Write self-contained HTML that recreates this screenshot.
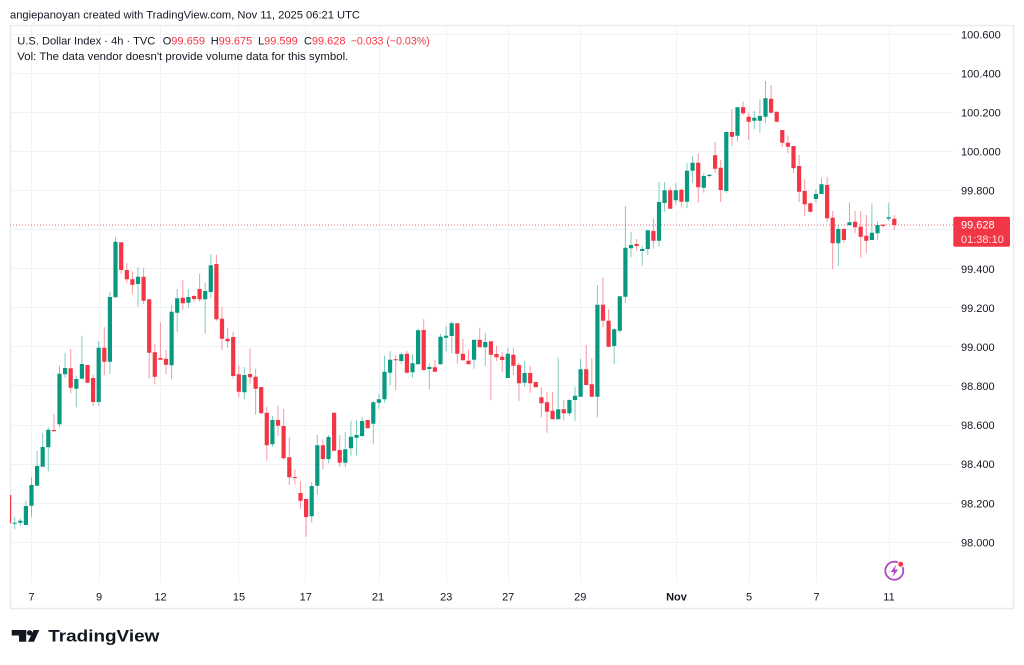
<!DOCTYPE html>
<html><head><meta charset="utf-8"><style>
html,body{margin:0;padding:0;background:#fff;}
svg{display:block;font-family:"Liberation Sans",Arial,sans-serif;}
</style></head><body>
<svg width="1024" height="665" viewBox="0 0 1024 665" xmlns="http://www.w3.org/2000/svg">
<defs><clipPath id="pc"><rect x="10" y="25" width="943" height="558"/></clipPath></defs>
<rect width="1024" height="665" fill="#fff"/>
<text x="10" y="18.5" font-size="11" fill="#131722" textLength="350" lengthAdjust="spacingAndGlyphs">angiepanoyan created with TradingView.com, Nov 11, 2025 06:21 UTC</text>
<rect x="10.5" y="25.5" width="1003" height="583" fill="none" stroke="#e9ebf0" stroke-width="1.5"/>
<g stroke="#f0f2f6" stroke-width="1">
<path d="M10 34.5H953M10 73.5H953M10 112.5H953M10 151.5H953M10 190.5H953M10 229.5H953M10 268.5H953M10 307.5H953M10 346.5H953M10 385.5H953M10 425.5H953M10 464.5H953M10 503.5H953M10 542.5H953"/>
<path d="M31.5 26V583M99.5 26V583M160.5 26V583M238.5 26V583M305.5 26V583M379.5 26V583M446.5 26V583M508.5 26V583M580.5 26V583M676.5 26V583M749.5 26V583M816.5 26V583M889.5 26V583"/>
</g>
<text font-size="11" fill="#131722"><tspan x="17.3" y="44.5" textLength="138" lengthAdjust="spacingAndGlyphs">U.S. Dollar Index · 4h · TVC</tspan><tspan x="162.7" y="44.5">O</tspan><tspan x="171.3" y="44.5" fill="#F23645">99.659</tspan><tspan x="210.7" y="44.5">H</tspan><tspan x="218.6" y="44.5" fill="#F23645">99.675</tspan><tspan x="258" y="44.5">L</tspan><tspan x="264.1" y="44.5" fill="#F23645">99.599</tspan><tspan x="304" y="44.5">C</tspan><tspan x="311.9" y="44.5" fill="#F23645">99.628</tspan><tspan x="350.7" y="44.5" fill="#F23645" textLength="79" lengthAdjust="spacingAndGlyphs">−0.033 (−0.03%)</tspan></text>
<text x="17.3" y="60" font-size="11" fill="#131722" textLength="331" lengthAdjust="spacingAndGlyphs">Vol: The data vendor doesn't provide volume data for this symbol.</text>
<line x1="10" y1="225" x2="953" y2="225" stroke="#F23645" stroke-width="1" stroke-dasharray="1 2" opacity="0.75"/>
<g clip-path="url(#pc)" fill="none">
<path stroke="#089981" stroke-opacity="0.5" stroke-width="1" d="M14.7 516.7V529.3M20.3 518.3V526M25.9 500.7V525M31.5 477.3V516.7M37.1 451V485.7M42.7 433.3V466.7M48.3 427.3V471.3M59.5 365.7V427.3M65.1 352.7V377.7M76.3 375.7V407.3M81.9 335.7V378.7M98.7 341V405.7M109.9 291.7V374M115.5 236.7V297.3M138 267V306.7M171.6 305V379.3M177.2 289V331.7M188.4 289.3V307.7M205.2 282.7V333.3M210.8 254.3V298.3M244.4 367V399M272.4 415.7V446.7M311.7 482V522.7M317.3 435V495M328.5 435V463.3M345.3 432V467.3M350.9 420.7V455.7M356.5 420V455.3M362.1 416.7V436.7M373.3 400.7V444M378.9 394.3V408.7M384.5 355.7V402.7M390.1 351.3V385.3M401.3 352.3V364.3M412.5 354.3V377.7M418.1 328.7V364.3M429.3 363.3V389.3M440.5 334V364.3M446.1 326.3V351M451.7 321V353.3M474.1 339.7V368.7M485.3 332.7V366M507.8 347.7V378M524.6 360.7V386.7M558.2 357.7V419.3M569.4 399.3V416M575 386.7V420.7M580.6 359V396.7M597.4 285V417.3M614.2 328.3V364M619.8 296.3V332.7M625.4 206V302.7M631 232V257.3M642.2 246V265.7M647.8 230.3V255M659 182V246.7M664.6 182V211.7M675.8 183.3V204.7M687 163.3V208.3M692.6 156V182.7M703.8 172.7V192.7M709.4 174V177.3M726.3 132V192.7M737.5 107.3V141.7M754.3 111V129.3M759.9 99.3V132.7M765.5 81V123.3M815.9 189V202.7M821.5 177.7V194M838.3 225V266M849.5 202.3V225.3M871.9 203.3V240M877.5 221.7V240M888.7 202.7V221"/>
<path stroke="#F23645" stroke-opacity="0.5" stroke-width="1" d="M9.1 495V523.3M53.9 414V431.3M70.7 349V393.3M87.5 365V382.7M93.1 374.7V405.7M104.3 327.3V375.3M121.2 242.3V274.3M126.8 263.3V283.3M132.4 271.7V294M143.6 267.7V304M149.2 299.3V378.7M154.8 344V384.3M160.4 322.3V359.7M166 350V374.3M182.8 280V310M194 295V301.7M199.6 273.7V301.7M216.4 254.7V320.7M222 306.7V350M227.6 327.7V347.7M233.2 332V378.3M238.8 365V397.3M250 348.3V384M255.6 368.7V414.7M261.2 387V413.3M266.8 406.7V460.7M278 405.7V435.7M283.6 409V459.3M289.3 437.3V485M294.9 469.3V484.3M300.5 481.3V508.7M306.1 499V536.7M322.9 439.3V469.3M334.1 412.7V450.7M339.7 435V466.7M367.7 420V428.3M395.7 355V390M406.9 350.7V373.7M423.7 319.3V370.7M434.9 360V371.7M457.3 323.3V363.7M462.9 339V360.3M468.5 350V364.3M479.7 327.7V347.3M490.9 341.3V400.3M496.5 346V361M502.2 352V372.3M513.4 347.7V375M519 362.7V400.7M530.2 366V392.7M535.8 382V387.3M541.4 387.3V417.3M547 391.7V432.7M552.6 391.7V419.3M563.8 400V420.7M586.2 345V385M591.8 358.3V396.7M603 277.3V327.3M608.6 309.3V347.3M636.6 239V250.7M653.4 218.3V248.7M670.2 187.3V209.3M681.4 188.3V206.7M698.2 153.3V202.7M715.1 142V172.7M720.7 160V202M731.9 109.3V146M743.1 101.7V115M748.7 112.7V140M771.1 85V113.7M776.7 111.7V122.3M782.3 130V146.7M787.9 135.7V153.3M793.5 146V173.3M799.1 155V202M804.7 179.3V215.7M810.3 203.3V212.7M827.1 176.7V221.7M832.7 211V269.3M843.9 228.3V242.7M855.1 211V233.3M860.7 211V257.7M866.3 215V253.3M883.1 224V227.7M894.3 215V230"/>
<path stroke="#089981" stroke-width="4.2" d="M14.7 522.7V523.7M20.3 520.7V522.7M25.9 506V525M31.5 485V505.7M37.1 466V485.7M42.7 447V466.7M48.3 429.7V447.3M59.5 373.7V424.3M65.1 368V374.3M76.3 379V388.7M81.9 364V378.7M98.7 347.7V402M109.9 297V361.7M115.5 241.7V297.3M138 276.7V284M171.6 311.7V365.3M177.2 298.3V312.7M188.4 297V302.7M205.2 291V299.3M210.8 265.3V292M244.4 375V392.3M272.4 420V444.3M311.7 486V516.3M317.3 445.3V485.7M328.5 437V459M345.3 449.3V462.7M350.9 436.7V448.3M356.5 435V437.7M362.1 421V436M373.3 402.3V423.7M378.9 399.3V402.7M384.5 371.7V399.3M390.1 359.7V372.7M401.3 354.3V361M412.5 363.3V372.3M418.1 330.3V364.3M429.3 367V369M440.5 336.7V364.3M446.1 335.7V337.7M451.7 323.3V336M474.1 339.7V359.7M485.3 342V347.3M507.8 353.7V378M524.6 373V382.7M558.2 409.3V419.3M569.4 400V413.3M575 395.7V400M580.6 369.3V396.7M597.4 304.7V396.7M614.2 329.3V346M619.8 296.3V330.7M625.4 247.7V296.7M631 245V248.3M642.2 249V251M647.8 230.3V249M659 202V240.7M664.6 190.3V203M675.8 190.3V200.3M687 170.7V201.7M692.6 162.7V170.7M703.8 176V187.7M709.4 174.7V176M726.3 132V191M737.5 107.3V135.7M754.3 117.7V120.7M759.9 116V120.7M765.5 98.3V116.7M815.9 194V199M821.5 184.3V194M838.3 229V243.3M849.5 222.3V225.3M871.9 232.7V240M877.5 225V233.3M888.7 217.3V218.7"/>
<path stroke="#F23645" stroke-width="4.2" d="M9.1 495V523.3M53.9 430V431.3M70.7 368.3V387.7M87.5 365V382.7M93.1 378V402M104.3 347.7V361.7M121.2 242.3V270M126.8 270V279.3M132.4 279.3V284.7M143.6 276.7V300.7M149.2 299.3V352.7M154.8 352.3V376.7M160.4 358V359.7M166 358.7V364.7M182.8 297.7V303.3M194 296V299M199.6 289V299.3M216.4 264V319.3M222 318.7V338.7M227.6 338.7V341.3M233.2 337V376M238.8 374.3V391.7M250 374V377.3M255.6 376.7V388.7M261.2 387V413.3M266.8 412.7V445.3M278 420V425.7M283.6 426V458.3M289.3 457.3V477.3M294.9 477V478M300.5 493V500.7M306.1 499V517M322.9 445.3V459M334.1 412.7V450.7M339.7 450V462.7M367.7 420V428.3M395.7 359.3V360.3M406.9 353.7V372.7M423.7 330V370M434.9 367.3V371.7M457.3 323.3V353.7M462.9 353.7V360.3M468.5 360.7V364.3M479.7 339.7V347.3M490.9 341.3V354.7M496.5 354V357.3M502.2 356.7V360M513.4 354.7V365.7M519 365V383.3M530.2 373V383.3M535.8 382V387.3M541.4 397.3V403.3M547 402.3V411.7M552.6 410.7V419.3M563.8 409.3V413.3M586.2 369.3V385M591.8 384.3V396.7M603 304.7V320.7M608.6 320.7V346.7M636.6 244V246M653.4 231V240.7M670.2 190.3V208.7M681.4 189.7V201.7M698.2 162.7V187.3M715.1 155.3V168.7M720.7 167.7V190M731.9 132V136.7M743.1 107.3V113.3M748.7 116.7V121.7M771.1 98.7V112.7M776.7 111.7V121.7M782.3 130V142.7M787.9 142.7V146.7M793.5 146V168.3M799.1 166V191.7M804.7 191V204.3M810.3 203.3V211.7M827.1 185V218.3M832.7 217.7V243.3M843.9 229V240M855.1 221.7V227.3M860.7 226.7V236.7M866.3 235.7V240.7M883.1 224.7V226M894.3 218.7V225"/>
</g>
<g font-size="11" fill="#131722">
<text x="961" y="38.3">100.600</text>
<text x="961" y="77.4">100.400</text>
<text x="961" y="116.5">100.200</text>
<text x="961" y="155.5">100.000</text>
<text x="961" y="194.6">99.800</text>
<text x="961" y="272.8">99.400</text>
<text x="961" y="311.9">99.200</text>
<text x="961" y="350.9">99.000</text>
<text x="961" y="390">98.800</text>
<text x="961" y="429.1">98.600</text>
<text x="961" y="468.2">98.400</text>
<text x="961" y="507.3">98.200</text>
<text x="961" y="546.3">98.000</text>
</g>
<rect x="953.3" y="216.7" width="56.7" height="30" rx="2" fill="#F23645"/>
<text x="961" y="228.3" font-size="11" fill="#fff">99.628</text>
<text x="961" y="243" font-size="11" fill="#fff" fill-opacity="0.85">01:38:10</text>
<g font-size="11" fill="#131722" text-anchor="middle">
<text x="31.5" y="600.5">7</text>
<text x="99" y="600.5">9</text>
<text x="160.5" y="600.5">12</text>
<text x="239" y="600.5">15</text>
<text x="305.8" y="600.5">17</text>
<text x="378" y="600.5">21</text>
<text x="446.2" y="600.5">23</text>
<text x="508.2" y="600.5">27</text>
<text x="580.3" y="600.5">29</text>
<text x="676.5" y="600.5" font-weight="bold">Nov</text>
<text x="749" y="600.5">5</text>
<text x="816.5" y="600.5">7</text>
<text x="889" y="600.5">11</text>
</g>
<circle cx="894.3" cy="570.7" r="9" fill="none" stroke="#b348c6" stroke-width="1.8"/>
<polygon points="896.3,564.8 890.6,572 894,572 892.4,577 898.2,569.6 894.8,569.6" fill="#b348c6"/>
<circle cx="900.7" cy="564.2" r="3.4" fill="#fff"/>
<circle cx="900.7" cy="564.2" r="2.5" fill="#F23645"/>
<g fill="#131722">
<rect x="11.7" y="630" width="14.5" height="5.5"/>
<rect x="19" y="630" width="7.2" height="11.7"/>
<circle cx="29.6" cy="632.8" r="2.7"/>
<polygon points="33.6,630 39.3,630 34,641.7 28,641.7"/>
</g>
<text x="48.3" y="641.7" font-size="16.5" font-weight="bold" fill="#131722" textLength="111" lengthAdjust="spacingAndGlyphs">TradingView</text>
</svg>
</body></html>
